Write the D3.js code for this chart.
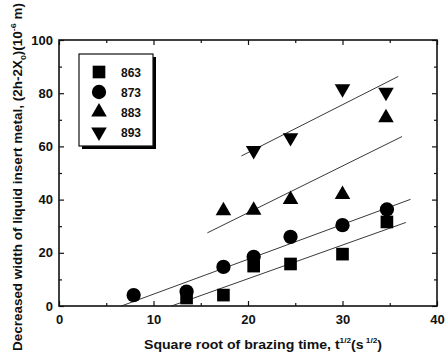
<!DOCTYPE html>
<html>
<head>
<meta charset="utf-8">
<script src="https://cdn.jsdelivr.net/npm/d3@7"></script>
<style>
  body { margin: 0; background: #fff; }
  text { font-family: "Liberation Sans", Arial, sans-serif; font-weight: bold; fill: #111; }
</style>
</head>
<body>
<script>
//------------ DATA ----------------------
const temps = ["863", "873", "883", "893"];

const x863 = [13.5, 17.4, 20.6, 24.5, 30.0, 34.7],
    y863 = [3.0, 4.1, 15.0, 15.8, 19.5, 31.6];
const x873 = [7.9, 13.5, 17.4, 20.6, 24.5, 30.0, 34.7],
    y873 = [4.1, 5.4, 14.7, 18.5, 26.0, 30.4, 36.3];
const x883 = [17.4, 20.6, 24.5, 30.0, 34.6],
    y883 = [35.8, 36.0, 40.0, 41.9, 70.8];
const x893 = [20.6, 24.5, 30.0, 34.6],
    y893 = [58.5, 63.3, 81.7, 80.4];

// fitted lines, [x, y] at both ends
const fit863 = [[11.9, 0], [36.7, 31.4]],
    fit873 = [[6.6, 0], [37.2, 40.1]],
    fit883 = [[15.7, 27.5], [36.3, 63.7]],
    fit893 = [[19.3, 56.4], [35.9, 86.3]];

const xMajor = [0, 10, 20, 30, 40], xMinor = [5, 15, 25, 35];
const yMajor = [0, 20, 40, 60, 80, 100], yMinor = [10, 30, 50, 70, 90];
//----------------------------------------

const width = 448, height = 358;
const margin = {left: 59, right: 11, top: 40, bottom: 52};

const svg = d3.select("body").append("svg")
    .attr("width", width)
    .attr("height", height);

const x = d3.scaleLinear().domain([0, 40]).range([margin.left, width - margin.right]);
const y = d3.scaleLinear().domain([0, 100]).range([height - margin.bottom, margin.top]);

// symbols per series
const sym = {
  "863": d3.symbol().type(d3.symbolSquare).size(160),
  "873": d3.symbol().type(d3.symbolCircle).size(160),
  "883": d3.symbol().type(d3.symbolTriangle).size(105),
  "893": d3.symbol().type(d3.symbolTriangle).size(105)
};
const rot = {"863": 0, "873": 0, "883": 0, "893": 180};

//----------- AXES -------------------
function ticks(axis, vals, size, g) {
  g.call(axis.tickValues(vals).tickSize(size).tickFormat(""));
  g.select(".domain").remove();
  g.selectAll("line").attr("stroke", "#111").attr("stroke-width", 1.2);
}
const yBot = height - margin.bottom, yTop = margin.top,
    xLeft = margin.left, xRight = width - margin.right;

ticks(d3.axisBottom(x), xMajor, -5, svg.append("g").attr("transform", `translate(0,${yBot})`));
ticks(d3.axisBottom(x), xMinor, -3, svg.append("g").attr("transform", `translate(0,${yBot})`));
ticks(d3.axisTop(x), xMajor, -5, svg.append("g").attr("transform", `translate(0,${yTop})`));
ticks(d3.axisTop(x), xMinor, -3, svg.append("g").attr("transform", `translate(0,${yTop})`));
ticks(d3.axisLeft(y), yMajor, -5, svg.append("g").attr("transform", `translate(${xLeft},0)`));
ticks(d3.axisLeft(y), yMinor, -3, svg.append("g").attr("transform", `translate(${xLeft},0)`));
ticks(d3.axisRight(y), yMajor, -5, svg.append("g").attr("transform", `translate(${xRight},0)`));
ticks(d3.axisRight(y), yMinor, -3, svg.append("g").attr("transform", `translate(${xRight},0)`));

// tick labels
const xl = svg.append("g").attr("transform", `translate(0,${yBot})`)
    .call(d3.axisBottom(x).tickValues(xMajor).tickSize(0).tickPadding(9));
xl.select(".domain").remove();
xl.selectAll("text").attr("font-size", 13).attr("font-family", null).style("fill", "#111");

const yl = svg.append("g").attr("transform", `translate(${xLeft},0)`)
    .call(d3.axisLeft(y).tickValues(yMajor).tickSize(0).tickPadding(6));
yl.select(".domain").remove();
yl.selectAll("text").attr("font-size", 13).attr("font-family", null).style("fill", "#111");

// frame
svg.append("rect")
    .attr("x", xLeft).attr("y", yTop)
    .attr("width", xRight - xLeft).attr("height", yBot - yTop)
    .attr("fill", "none").attr("stroke", "#111").attr("stroke-width", 1.6);

//----------- FIT LINES -------------------
const line = d3.line().x(d => x(d[0])).y(d => y(d[1]));
[fit863, fit873, fit883, fit893].forEach(f => {
  svg.append("path").attr("d", line(f))
      .attr("fill", "none").attr("stroke", "#222").attr("stroke-width", 0.9);
});

//----------- POINTS -------------------
const series = [["863", x863, y863], ["873", x873, y873], ["883", x883, y883], ["893", x893, y893]];
series.forEach(([t, xs, ys]) => {
  svg.append("g").selectAll("path")
    .data(xs.map((v, i) => [v, ys[i]]))
    .join("path")
      .attr("d", sym[t]())
      .attr("transform", d => `translate(${x(d[0])},${y(d[1])}) rotate(${rot[t]})`)
      .attr("fill", "#000");
});

//----------- LEGEND -------------------
const lg = svg.append("g").attr("transform", "translate(79,54)");
lg.append("rect").attr("x", 3).attr("y", 3).attr("width", 74).attr("height", 92).attr("fill", "#000");
lg.append("rect").attr("width", 74).attr("height", 92)
    .attr("fill", "#fff").attr("stroke", "#111").attr("stroke-width", 1.2);
temps.forEach((t, i) => {
  const yy = 18 + i * 20;
  lg.append("path").attr("d", sym[t]())
      .attr("transform", `translate(20,${yy}) rotate(${rot[t]})`).attr("fill", "#000");
  lg.append("text").attr("x", 42).attr("y", yy + 4.5).attr("font-size", 12).text(t);
});

//----------- AXIS TITLES -------------------
const xt = svg.append("text")
    .attr("x", 263).attr("y", 349)
    .attr("text-anchor", "middle").attr("font-size", 12)
    .attr("textLength", 238).attr("lengthAdjust", "spacingAndGlyphs");
xt.append("tspan").text("Square root of brazing time, t");
xt.append("tspan").attr("font-size", 7).attr("dy", -6).text("1/2");
xt.append("tspan").attr("dy", 6).text("(s");
xt.append("tspan").attr("font-size", 7).attr("dy", -6).text(" 1/2");
xt.append("tspan").attr("dy", 6).text(")");

const yt = svg.append("text")
    .attr("transform", "translate(22,177) rotate(-90)")
    .attr("text-anchor", "middle").attr("font-size", 12)
    .attr("textLength", 348).attr("lengthAdjust", "spacingAndGlyphs");
yt.append("tspan").text("Decreased width  of liquid insert metal, (2h-2X");
yt.append("tspan").attr("font-size", 8).attr("dy", 4).text("0");
yt.append("tspan").attr("dy", -4).text(")(10");
yt.append("tspan").attr("font-size", 8).attr("dy", -6).text("-6");
yt.append("tspan").attr("dy", 6).text(" m)");
</script>
</body>
</html>
